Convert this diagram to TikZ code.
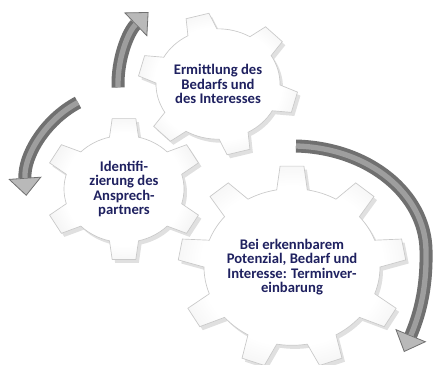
\documentclass[tikz,border=0pt]{standalone}
\usepackage{fontspec}
\newfontfamily\carlito{Carlito}
\usetikzlibrary{arrows.meta}

\definecolor{gtext}{RGB}{31,33,96}
\definecolor{arrowdark}{RGB}{112,112,112}
\definecolor{arrowlight}{RGB}{158,158,158}
\definecolor{arrowhead}{RGB}{185,185,185}

\pgfdeclareradialshading{gearshade}{\pgfpoint{0bp}{0bp}}{%
  color(0bp)=(white); color(20bp)=(white); color(36bp)=(gray!20);
  color(44bp)=(gray!30); color(50bp)=(gray!34)}

\tikzset{
  geartext/.style={font=\carlito\bfseries\fontsize{11}{10.7}\selectfont, text=gtext, align=center, inner sep=0.75pt},
  gearbody/.style={shading=gearshade, draw=gray!42, line width=0.5pt},
  gearshadow/.style={fill=black, fill opacity=0.12},
  arrowbody/.style={draw=arrowdark, line width=9.75pt, -{Triangle[width=25pt, length=13.5pt, line width=0.6pt, fill=arrowhead]}},
  arrowshine/.style={draw=arrowlight, line width=4pt, shorten >=13.5pt},
}

% gear outline: teeth, inner radius, outer radius, half angle at base, half angle at tip, angle of first tooth
\newcommand{\gearpath}[6]{%
  ({#6-#4}:#2)
  \foreach \k [evaluate=\k as \a using #6+(\k-1)*360/#1] in {1,...,#1}{
    -- ({\a-#5}:#3) -- ({\a+#5}:#3) -- ({\a+#4}:#2)
    arc[start angle=\a+#4, end angle=\a+360/#1-#4, radius=#2]
  } -- cycle}

\newcommand{\drawgear}[7]{%
  \begin{scope}[shift={(#1)}, yscale=0.89]
    \fill[gearshadow, shift={(3,4)}] \gearpath{#2}{#3}{#4}{#5}{#6}{#7};
    \shadedraw[gearbody] \gearpath{#2}{#3}{#4}{#5}{#6}{#7};
  \end{scope}}

\begin{document}
\begin{tikzpicture}[x=0.75pt,y=0.75pt,yscale=-1,xscale=1]
        \fill[white] (0,0) rectangle (437,365);
        \useasboundingbox (0,0) rectangle (437,365);

        % Gear centers
        \coordinate (leftc) at (124,189);
        \coordinate (topc) at (218,84);
        \coordinate (bigc) at (292,267);

        %Shape: Gear left
        \drawgear{leftc}{6}{60}{80}{14}{8.5}{-30}
        %Shape: Gear top
        \drawgear{topc}{6}{62}{80}{14}{8.5}{-45}
        %Shape: Gear big
        \drawgear{bigc}{9}{88}{114}{10}{6}{-90}

        %Curved Arrow top
        \draw[arrowbody] ([shift={(178:100)}]topc) arc[start angle=178, end angle=226, radius=100];
        \draw[arrowshine] ([shift={(178:100)}]topc) arc[start angle=178, end angle=226, radius=100];
        %Curved Arrow left
        \draw[arrowbody] ([shift={(-118:98)}]leftc) arc[start angle=-118, end angle=-184, radius=98];
        \draw[arrowshine] ([shift={(-118:98)}]leftc) arc[start angle=-118, end angle=-184, radius=98];
        %Curved Arrow right
        \coordinate (rtail) at (296,146);
        \coordinate (rmid) at (426,250);
        \coordinate (rtip) at (404,352);
        \draw[arrowbody] (rtail) .. controls (370,148) and (425,195) .. (rmid) .. controls (427,292) and (418,318) .. (rtip);
        \draw[arrowshine] (rtail) .. controls (370,148) and (425,195) .. (rmid) .. controls (427,292) and (418,318) .. (rtip);

        % Text Node
        \node[geartext] (ermittlung) at (topc) {Ermittlung des\\Bedarfs und\\des Interesses};
        % Text Node
        \node[geartext] (identifizierung) at (leftc) {Identifi-\\zierung des\\Ansprech-\\partners};
        % Text Node
        \node[geartext] (termin) at (bigc) {Bei erkennbarem\\Potenzial, Bedarf und\\Interesse: Terminver-\\einbarung};

\end{tikzpicture}
\end{document}
